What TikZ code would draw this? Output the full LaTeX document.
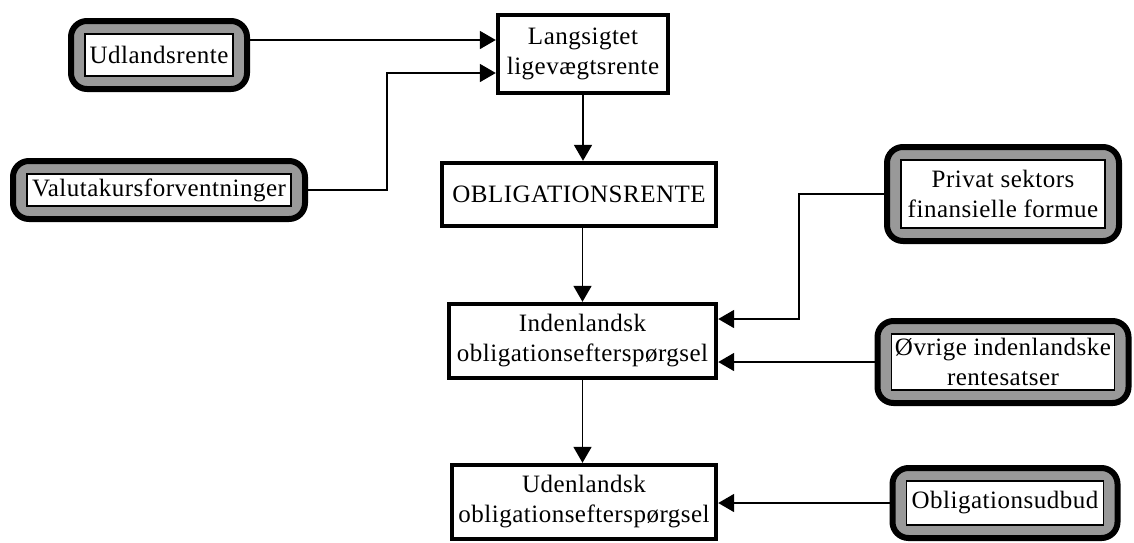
\documentclass[tikz,border=0pt]{standalone}
\usepackage{fontspec}
\setmainfont{Liberation Serif}[LetterSpace=2.0]
\usetikzlibrary{arrows.meta}

\begin{document}
\begin{tikzpicture}[x=0.5pt, y=-0.5pt, >={Triangle[length=8pt, width=9pt]},
	every node/.style = {font=\fontsize{12.5}{15}\selectfont, align=center},
	main/.style = {draw, line width=2.2pt, fill=white, inner sep=0pt},
	ext/.style = {draw, line width=3pt, rounded corners=8pt, inner sep=0pt,
		path picture={
			\fill[black!40] (path picture bounding box.south west) rectangle (path picture bounding box.north east);
			\draw[line width=0.8pt, fill=white, sharp corners]
				([shift={(7pt,6.5pt)}]path picture bounding box.south west) rectangle
				([shift={(-7pt,-6.5pt)}]path picture bounding box.north east);
		}},
	conn/.style = {line width=0.9pt}]
	\useasboundingbox (0,0) rectangle (1134,542);

	% middle column
	\node[main, minimum width=85pt, minimum height=39pt] (lang) at (583,54) {Langsigtet\\ligevægtsrente};
	\node[main, minimum width=137pt, minimum height=31.5pt] (obl) at (579,194.5) {OBLIGATIONSRENTE};
	\node[main, minimum width=133.5pt, minimum height=37pt] (inden) at (582.5,341) {Indenlandsk\\obligationsefterspørgsel};
	\node[main, minimum width=132pt, minimum height=37pt] (uden) at (584,502) {Udenlandsk\\obligationsefterspørgsel};

	% exogenous boxes
	\node[ext, minimum width=88pt, minimum height=34pt] (udl) at (159,55) {Udlandsrente};
	\node[ext, minimum width=146pt, minimum height=29pt] (valuta) at (159,190) {Valutakursforventninger};
	\node[ext, minimum width=116pt, minimum height=47pt] (priv) at (1003,194) {Privat sektors\\finansielle formue};
	\node[ext, minimum width=125.5pt, minimum height=41pt] (ovr) at (1003,362) {Øvrige indenlandske\\rentesatser};
	\node[ext, minimum width=112.5pt, minimum height=35pt] (obud) at (1005,503) {Obligationsudbud};

	\draw[conn,->] (udl.east |- 0,40) -- (lang.west |- 0,40);
	\draw[conn,->] (valuta.east) -| (387,73) -- (lang.west |- 0,73);
	\draw[conn,->] (lang.south) -- (lang.south |- obl.north);
	\draw[conn,->] (inden.north |- obl.south) -- (inden.north);
	\draw[conn,->] (inden.south) -- (inden.south |- uden.north);
	\draw[conn,->] (priv.west) -| (799,319) -- (inden.east |- 0,319);
	\draw[conn,->] (ovr.west) -- (inden.east |- ovr.west);
	\draw[conn,->] (obud.west) -- (uden.east |- obud.west);

\end{tikzpicture}
\end{document}
